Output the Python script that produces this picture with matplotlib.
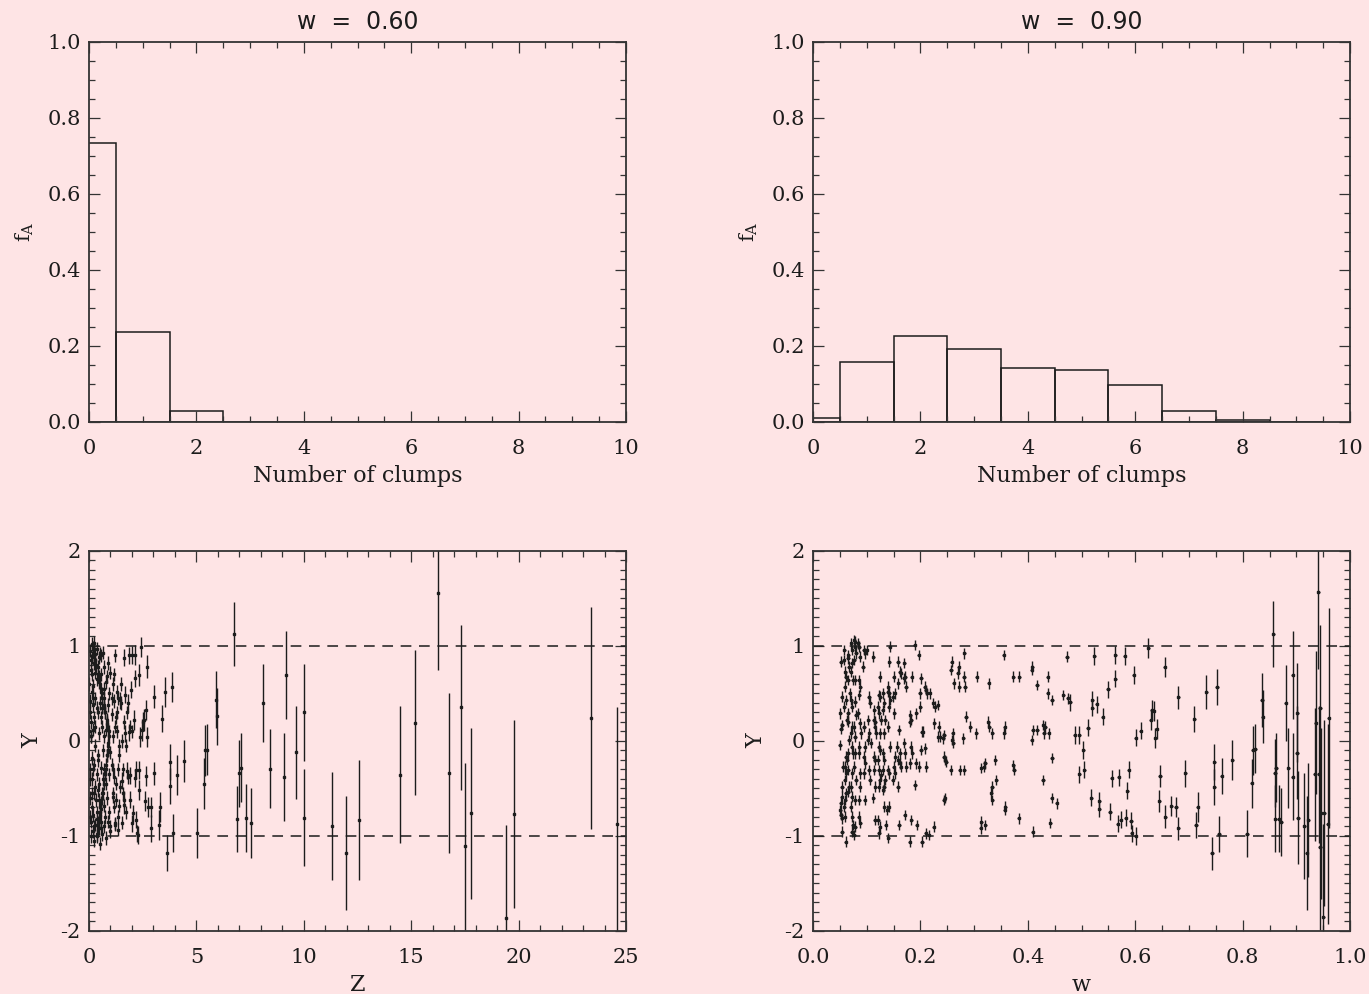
"""Clump statistics: f_A histograms (top) and Y against Z and w (bottom)."""
import matplotlib.pyplot as plt
from matplotlib.ticker import MultipleLocator, FormatStrFormatter

BG = "#fee4e5"
INK = "#1c1c1c"

plt.rcParams["font.family"] = "DejaVu Serif"
plt.rcParams["mathtext.fontset"] = "dejavuserif"

# ---- histograms -------------------------------------------------------------
CLUMPS = list(range(10))
FA_W060 = [0.733, 0.237, 0.030, 0.0, 0.0, 0.0, 0.0, 0.0, 0.0, 0.0]
FA_W090 = [0.011, 0.159, 0.227, 0.193, 0.143, 0.136, 0.096, 0.028, 0.006, 0.001]

# ---- Y vs Z: dense core (small, similar errors) ----------------------------
Z_CORE = [0.05, 0.12, 0.18, 0.25, 0.30, 0.38, 0.45, 0.10, 0.22, 0.55, 0.65, 0.90, 1.20,
          0.08, 0.15, 0.28, 0.35, 0.42, 0.50, 0.58, 0.70, 0.78, 0.85, 1.00, 1.10, 1.30, 0.20, 0.12, 0.95,
          0.05, 0.18, 0.30, 0.40, 0.50, 0.55, 0.62, 0.70, 0.75, 0.82, 0.90, 1.05, 1.15, 1.35, 1.50, 1.75, 0.25, 0.10, 1.25,
          0.02, 0.08, 0.20, 0.30, 0.45, 0.60, 0.65, 0.72, 0.80, 0.88, 0.95, 1.00, 1.10, 1.20, 1.30, 1.40, 1.55, 1.70, 1.90, 2.00, 0.40, 0.15, 0.85,
          0.05, 0.12, 0.22, 0.35, 0.45, 0.55, 0.65, 0.72, 0.80, 0.92, 1.05, 1.15, 1.35, 1.60, 1.80, 0.28, 1.45,
          0.05, 0.15, 0.25, 0.35, 0.45, 0.55, 0.60, 0.70, 0.85, 0.95, 1.10, 1.25, 1.40, 0.40, 0.20,
          0.10, 0.18, 0.25, 0.30, 0.38, 0.45, 0.50, 0.55, 0.62, 0.70, 0.80, 0.90, 1.00, 1.20, 0.35, 0.08,
          # upper arm of the dense ridge
          0.25, 0.32, 0.40, 0.48, 0.55, 0.62, 0.68, 0.75, 0.82, 0.88, 0.92, 0.30, 0.45, 0.60, 0.72, 0.85,
          # lower arm of the dense ridge
          0.90, 0.85, 0.80, 0.75, 0.70, 0.65, 0.58, 0.50, 0.45, 0.40, 0.35, 0.78, 0.62, 0.52, 0.42, 0.88,
          # scattered
          0.02, 0.03, 0.04, 0.06, 0.10, 0.12, 0.15, 0.18, 0.20, 0.24, 0.28, 0.32, 0.36, 0.42,
          0.50, 0.58, 0.68, 0.75, 1.05, 1.12, 1.18, 1.25, 1.32, 1.42, 1.48, 1.58, 1.65, 1.72]
Y_CORE = [0.95, 1.02, 0.98, 1.03, 0.92, 0.97, 0.88, 0.85, 0.82, 0.90, 0.93, 0.82, 0.90,
          0.75, 0.70, 0.72, 0.65, 0.78, 0.60, 0.70, 0.55, 0.62, 0.68, 0.72, 0.60, 0.52, 0.58, 0.52, 0.50,
          0.42, 0.38, 0.45, 0.30, 0.40, 0.25, 0.35, 0.45, 0.30, 0.22, 0.38, 0.28, 0.42, 0.45, 0.40, 0.30, 0.25, 0.20, 0.25,
          0.10, 0.05, 0.12, -0.05, 0.08, 0.15, -0.10, 0.05, 0.12, -0.02, 0.10, -0.12, 0.05, 0.15, 0.10, -0.05, 0.00, -0.05, 0.15, 0.10, -0.15, -0.18, -0.15,
          -0.30, -0.40, -0.25, -0.35, -0.45, -0.28, -0.40, -0.30, -0.45, -0.35, -0.25, -0.38, -0.30, -0.30, -0.38, -0.48, -0.48,
          -0.60, -0.70, -0.55, -0.75, -0.62, -0.72, -0.55, -0.68, -0.60, -0.75, -0.55, -0.62, -0.68, -0.52, -0.78,
          -0.85, -0.95, -1.05, -0.88, -1.00, -0.92, -1.08, -0.85, -0.98, -0.90, -1.02, -0.85, -0.95, -0.88, -0.82, -1.00,
          0.90, 0.80, 0.70, 0.62, 0.52, 0.45, 0.38, 0.30, 0.20, 0.12, 0.05, 0.85, 0.68, 0.50, 0.35, 0.18,
          -0.05, -0.15, -0.25, -0.35, -0.45, -0.55, -0.65, -0.75, -0.82, -0.90, -0.98, -0.30, -0.60, -0.70, -0.86, -0.10,
          0.60, -0.40, 0.30, -0.80, 0.05, -0.55, 0.88, -0.30, 0.45, -0.90, 0.15, -0.62, 0.35, -0.20,
          0.92, -0.92, 0.78, -0.80, 0.45, -0.30, 0.70, -0.45, 0.30, -0.15, 0.60, -0.55, 0.20, -0.75]
CORE_ERR = 0.07

# ---- Y vs Z: individually read points ---------------------------------------
Z_PTS = [2.42, 2.14, 2.02, 1.86, 1.64, 2.68, 2.34, 2.14, 1.94, 1.80, 1.68, 1.44,
         2.67, 2.58, 2.53, 2.47, 2.39, 2.68, 2.09, 1.88, 1.68,
         2.19, 2.34, 2.64, 2.61, 2.73, 2.89, 2.31, 2.14, 1.91, 1.77, 1.55,
         1.92, 2.02, 2.06, 2.19, 2.22, 2.30, 1.64, 1.64, 1.52, 1.33, 1.37, 1.19, 1.16, 1.12, 0.98,
         3.04, 3.03, 3.29, 3.27, 2.89, 3.38, 3.52, 3.86, 3.65, 3.91, 3.77, 3.79, 4.09, 4.40,
         5.03, 5.35, 5.42, 5.49, 5.91, 5.97, 6.77, 6.90, 6.97, 7.08, 7.31, 7.54,
         8.10, 8.41, 9.08, 9.16, 9.65, 10.03, 10.03, 11.33, 11.98, 12.55,
         14.50, 15.19, 16.23, 16.75, 17.33, 17.50, 17.78, 19.41, 19.80, 23.36, 24.58]
Y_PTS = [0.99, 0.905, 0.905, 0.90, 0.875, 0.78, 0.695, 0.66, 0.54, 0.40, 0.485, 0.43,
         0.325, 0.22, 0.205, 0.115, 0.04, 0.04, 0.22, 0.09, 0.08,
         -0.305, -0.305, -0.365, -0.63, -0.69, -0.69, -0.515, -0.39, -0.36, -0.315, -0.42,
         -0.62, -0.865, -0.76, -0.83, -0.97, -0.99, -0.62, -0.675, -0.86, -0.935, -0.80, -0.865, -0.69, -0.585, -0.90,
         0.466, -0.34, -0.69, -0.88, -0.92, 0.235, 0.516, 0.572, -1.18, -0.97, -0.47, -0.22, -0.36, -0.21,
         -0.97, -0.45, -0.10, -0.09, 0.435, 0.26, 1.126, -0.82, -0.34, -0.28, -0.81, -0.86,
         0.40, -0.29, -0.38, 0.695, -0.12, 0.30, -0.81, -0.895, -1.18, -0.83,
         -0.355, 0.193, 1.56, -0.34, 0.355, -1.11, -0.76, -1.86, -0.77, 0.24, -0.87]
E_PTS = [0.105, 0.105, 0.09, 0.09, 0.09, 0.12, 0.12, 0.09, 0.09, 0.09, 0.09, 0.09,
         0.105, 0.12, 0.105, 0.12, 0.105, 0.105, 0.105, 0.09, 0.09,
         0.09, 0.09, 0.105, 0.105, 0.105, 0.105, 0.105, 0.09, 0.09, 0.09, 0.09,
         0.09, 0.09, 0.09, 0.09, 0.09, 0.09, 0.09, 0.09, 0.07, 0.07, 0.07, 0.07, 0.07, 0.07, 0.07,
         0.123, 0.123, 0.158, 0.158, 0.14, 0.14, 0.158, 0.158, 0.19, 0.20, 0.19, 0.19, 0.21, 0.22,
         0.26, 0.27, 0.27, 0.27, 0.30, 0.30, 0.34, 0.35, 0.35, 0.36, 0.36, 0.37,
         0.41, 0.42, 0.46, 0.46, 0.49, 0.51, 0.51, 0.57, 0.60, 0.63,
         0.72, 0.76, 0.81, 0.84, 0.87, 0.88, 0.90, 0.98, 0.99, 1.17, 1.23]

# ---- Y vs w: low-w points (uniform small errors) -----------------------------
W_LOW = [0.052, 0.053, 0.051, 0.054, 0.052, 0.050, 0.055, 0.054, 0.053, 0.052, 0.051, 0.052, 0.053, 0.054,
         0.058, 0.057, 0.060, 0.061, 0.059, 0.062, 0.058, 0.063, 0.061, 0.060, 0.062, 0.059, 0.061, 0.060, 0.058, 0.059, 0.061,
         0.066, 0.065, 0.067, 0.066, 0.068, 0.065, 0.066, 0.067, 0.065, 0.064, 0.066, 0.067, 0.065,
         0.071, 0.073, 0.072, 0.070, 0.074, 0.071, 0.072, 0.073, 0.071, 0.072, 0.074, 0.073, 0.071, 0.072, 0.070, 0.073, 0.074, 0.072,
         0.077, 0.079, 0.078, 0.080, 0.077, 0.079, 0.078, 0.080, 0.076, 0.078, 0.079, 0.077, 0.080, 0.078, 0.079, 0.077,
         0.084, 0.086, 0.087, 0.085, 0.088, 0.086, 0.084, 0.087, 0.089, 0.086, 0.085, 0.088, 0.087, 0.086, 0.085, 0.088,
         0.094, 0.097, 0.093, 0.095, 0.096, 0.094, 0.097, 0.095, 0.096,
         0.100, 0.104, 0.106, 0.103, 0.105, 0.102, 0.107, 0.104, 0.106,
         0.112, 0.114, 0.113, 0.116, 0.115, 0.117, 0.113, 0.115, 0.114, 0.116, 0.112, 0.115,
         0.124, 0.122, 0.125, 0.121, 0.123, 0.126, 0.124, 0.122, 0.125, 0.121, 0.123, 0.126, 0.124, 0.122, 0.121, 0.124, 0.123,
         0.131, 0.133, 0.130, 0.134, 0.132, 0.131, 0.133, 0.130, 0.134, 0.132, 0.131, 0.133, 0.135,
         0.143, 0.142, 0.140, 0.139, 0.142, 0.144, 0.141, 0.140, 0.143, 0.139, 0.142, 0.141, 0.138, 0.140,
         0.150, 0.152, 0.149, 0.151, 0.153, 0.150, 0.152, 0.148,
         0.158, 0.161, 0.163, 0.159, 0.160, 0.157, 0.162, 0.159, 0.161, 0.163, 0.158, 0.160,
         0.170, 0.172, 0.169, 0.173, 0.170, 0.171, 0.174, 0.171,
         0.184, 0.181, 0.183, 0.180, 0.182, 0.185, 0.181, 0.183, 0.180,
         0.189, 0.192, 0.191, 0.190, 0.193,
         0.197, 0.201, 0.199, 0.200, 0.202, 0.204, 0.201, 0.198, 0.203,
         0.208, 0.210, 0.212, 0.209, 0.211, 0.210,
         0.217, 0.215, 0.224, 0.227, 0.226, 0.225, 0.232, 0.234, 0.233, 0.236,
         0.244, 0.242, 0.243, 0.246, 0.248, 0.245, 0.244,
         0.258, 0.257, 0.262, 0.260, 0.259, 0.261, 0.256,
         0.271, 0.270, 0.272, 0.273, 0.282, 0.281, 0.283, 0.285, 0.280, 0.282,
         0.293, 0.305, 0.304, 0.313, 0.313, 0.312, 0.320, 0.318, 0.321, 0.327, 0.326, 0.328,
         0.334, 0.333, 0.332, 0.334, 0.339, 0.341, 0.355, 0.357, 0.356, 0.358, 0.357,
         0.373, 0.373, 0.374, 0.384, 0.383, 0.408, 0.407, 0.409, 0.407, 0.409, 0.417, 0.417,
         0.429, 0.432, 0.430, 0.428, 0.437, 0.437, 0.439, 0.445, 0.445, 0.444, 0.442,
         0.454, 0.466, 0.473, 0.474]
Y_LOW = [0.835, 0.467, 0.291, 0.169, 0.130, -0.042, -0.270, -0.480, -0.586, -0.656, -0.726, -0.779, -0.814, -0.954,
         0.958, 0.853, 0.730, 0.677, 0.572, 0.432, 0.362, 0.221, -0.165, -0.270, -0.340, -0.410, -0.551, -0.621, -0.691, -0.796, -1.060,
         0.905, 0.870, 0.783, 0.642, 0.502, 0.291, 0.204, 0.011, -0.130, -0.200, -0.305, -0.480, -0.533,
         1.028, 0.958, 0.818, 0.730, 0.642, 0.432, 0.362, 0.151, 0.081, -0.060, -0.130, -0.340, -0.480, -0.586, -0.691, -0.796, -0.884, -0.954,
         1.063, 1.046, 0.993, 0.923, 0.853, 0.642, 0.414, 0.274, 0.151, 0.046, -0.130, -0.270, -0.410, -0.621, -0.902, -0.989,
         1.028, 0.993, 0.888, 0.642, 0.572, 0.484, 0.291, 0.186, 0.081, -0.060, -0.130, -0.340, -0.480, -0.621, -0.796, -0.866,
         0.958, 0.923, 0.783, 0.151, -0.060, -0.165, -0.235, -0.340, -0.621,
         0.958, 0.467, 0.397, 0.221, 0.081, 0.011, -0.024, -0.305, -0.410,
         0.888, 0.326, 0.221, 0.204, 0.151, 0.081, -0.165, -0.200, -0.305, -0.480, -0.603, -0.831,
         0.677, 0.484, 0.467, 0.362, 0.291, 0.221, 0.081, -0.060, -0.095, -0.200, -0.305, -0.358, -0.410, -0.480, -0.831, -0.902, -0.972,
         0.502, 0.397, 0.326, 0.221, 0.081, -0.130, -0.200, -0.305, -0.410, -0.480, -0.516, -0.691, -0.884,
         0.993, 0.835, 0.572, 0.519, 0.502, 0.432, 0.362, 0.151, -0.060, -0.305, -0.340, -0.691, -0.726, -1.024,
         0.677, 0.502, 0.467, 0.291, -0.165, -0.270, -0.340, -0.410,
         0.835, 0.730, 0.712, 0.607, 0.116, -0.060, -0.130, -0.200, -0.235, -0.270, -0.480, -0.884,
         0.818, 0.677, 0.660, 0.572, -0.024, -0.130, -0.270, -0.779,
         0.677, 0.274, 0.221, 0.204, -0.060, -0.130, -0.235, -0.831, -1.060,
         1.011, 0.291, -0.235, -0.463, -0.884,
         0.905, 0.660, 0.502, 0.362, 0.098, 0.098, -0.095, -0.270, -1.060,
         0.572, 0.537, 0.502, -0.077, -0.270, -0.972,
         0.502, -0.989, 0.397, 0.362, 0.186, -0.902, 0.380, 0.151, 0.046, 0.046,
         0.063, 0.028, -0.165, -0.200, -0.217, -0.603, -0.621,
         0.835, 0.748, 0.607, 0.081, 0.011, -0.024, -0.305,
         0.783, 0.712, 0.572, -0.305, 0.923, 0.677, 0.572, 0.256, 0.028, -0.305,
         0.151, 0.677, 0.081, -0.287, -0.849, -0.919, -0.235, -0.270, -0.884, 0.607, 0.204, 0.151,
         0.081, -0.480, -0.551, -0.621, -0.200, -0.410, 0.905, 0.151, 0.081, -0.691, -0.726,
         0.677, -0.252, -0.305, 0.677, -0.814, 0.783, 0.748, 0.116, 0.011, -0.954, 0.590, 0.116,
         0.169, 0.151, 0.081, -0.410, 0.677, 0.502, 0.081, 0.432, -0.182, -0.603, -0.866,
         -0.656, 0.484, 0.888, 0.449]
LOW_ERR = 0.055
W_ERR = 0.003

# ---- Y vs w: high-w points with individual errors -----------------------------
W_HIGH = [0.479, 0.487, 0.496, 0.496, 0.503, 0.505, 0.512, 0.518, 0.520, 0.520, 0.524, 0.528,
          0.533, 0.533, 0.539, 0.549, 0.553, 0.556, 0.563, 0.563, 0.567, 0.569, 0.573, 0.580,
          0.582, 0.585, 0.588, 0.592, 0.593, 0.597, 0.601, 0.601, 0.610,
          0.624, 0.629, 0.631, 0.634, 0.637, 0.640, 0.645, 0.646, 0.655, 0.656, 0.667, 0.676,
          0.680, 0.680, 0.693, 0.710, 0.713, 0.716, 0.732, 0.743, 0.747, 0.747, 0.752, 0.756, 0.761,
          0.781, 0.808, 0.817, 0.819, 0.823, 0.836, 0.837, 0.857, 0.860, 0.861, 0.862, 0.867, 0.872,
          0.880, 0.885, 0.893, 0.893, 0.901, 0.902, 0.903, 0.915, 0.919, 0.922,
          0.934, 0.936, 0.941, 0.942, 0.944, 0.944, 0.945, 0.950, 0.952, 0.958, 0.960]
Y_HIGH = [0.407, 0.063, 0.063, -0.351, -0.095, -0.302, 0.141, -0.596, 0.432, 0.351, 0.895, 0.386,
          -0.631, -0.712, 0.256, 0.544, -0.744, -0.393, 0.905, 0.653, -0.873, -0.382, -0.831, 0.895,
          -0.807, -0.523, -0.302, -0.838, -0.972, 0.695, -1.000, 0.035, 0.106,
          0.979, 0.221, 0.327, 0.320, 0.035, 0.127, -0.631, -0.368, 0.783, -0.796, -0.684, -0.691,
          0.460, -0.919, -0.340, 0.232, -0.884, -0.695, 0.516, -1.182, -0.217, -0.480, 0.569, -0.975, -0.368,
          -0.203, -0.975, -0.445, -0.098, -0.080, 0.432, 0.256, 1.127, -0.340, -0.817, -0.280, -0.817, -0.852,
          0.397, -0.287, 0.695, -0.375, -0.123, 0.298, -0.807, -0.894, -1.182, -0.831,
          -0.351, 0.193, 1.565, -0.351, -1.112, 0.351, -0.761, -1.856, -0.761, -0.873, 0.239]
E_HIGH = [0.09, 0.09, 0.09, 0.09, 0.09, 0.09, 0.09, 0.09, 0.09, 0.09, 0.09, 0.09,
          0.09, 0.09, 0.09, 0.09, 0.09, 0.09, 0.09, 0.09, 0.09, 0.09, 0.09, 0.09,
          0.09, 0.09, 0.09, 0.09, 0.09, 0.09, 0.09, 0.09, 0.09,
          0.105, 0.105, 0.105, 0.105, 0.105, 0.105, 0.12, 0.12, 0.105, 0.12, 0.105, 0.105,
          0.12, 0.12, 0.14, 0.14, 0.14, 0.16, 0.175, 0.175, 0.19, 0.19, 0.19, 0.19, 0.19,
          0.21, 0.245, 0.26, 0.26, 0.26, 0.28, 0.28, 0.35, 0.36, 0.35, 0.36, 0.35, 0.36,
          0.40, 0.42, 0.46, 0.46, 0.49, 0.52, 0.49, 0.56, 0.60, 0.60,
          0.70, 0.75, 0.81, 0.72, 0.88, 0.87, 0.90, 0.98, 0.98, 1.05, 1.16]


def style_axes(ax, xmaj, xmin, ymaj, ymin, yfmt):
    ax.set_facecolor(BG)
    ax.xaxis.set_major_locator(MultipleLocator(xmaj))
    ax.xaxis.set_minor_locator(MultipleLocator(xmin))
    ax.yaxis.set_major_locator(MultipleLocator(ymaj))
    ax.yaxis.set_minor_locator(MultipleLocator(ymin))
    ax.yaxis.set_major_formatter(FormatStrFormatter(yfmt))
    ax.tick_params(which="both", direction="in", top=True, right=True,
                   color="#333333", labelcolor=INK, labelsize=15, width=0.9)
    ax.tick_params(which="major", length=8)
    ax.tick_params(which="minor", length=4)
    ax.tick_params(axis="x", pad=12)
    ax.tick_params(axis="y", pad=6)
    for sp in ax.spines.values():
        sp.set_linewidth(1.3)
        sp.set_color("#333333")


fig = plt.figure(figsize=(13.69, 9.94), dpi=100, facecolor=BG)
w_ax, h_ax = 0.3923, 0.3823
ax_h1 = fig.add_axes([0.0650, 0.5755, w_ax, h_ax])
ax_h2 = fig.add_axes([0.5939, 0.5755, w_ax, h_ax])
ax_z = fig.add_axes([0.0650, 0.0634, w_ax, h_ax])
ax_w = fig.add_axes([0.5939, 0.0634, w_ax, h_ax])

# histograms
for ax, vals, title in [(ax_h1, FA_W060, "w  =  0.60"), (ax_h2, FA_W090, "w  =  0.90")]:
    style_axes(ax, 2, 0.5, 0.2, 0.05, "%.1f")
    ax.bar(CLUMPS, vals, width=1.0, fill=False, edgecolor=INK, linewidth=1.1)
    ax.set_xlim(0, 10)
    ax.set_ylim(0, 1.0)
    ax.xaxis.set_major_formatter(FormatStrFormatter("%d"))
    ax.set_title(title, fontsize=17, family="DejaVu Sans", pad=9, color=INK)
    ax.set_xlabel("Number of clumps", fontsize=16, labelpad=5, color=INK)
    ax.set_ylabel(r"f$_{\rm A}$", fontsize=15, labelpad=8, color=INK)

# Y versus Z
style_axes(ax_z, 5, 1, 1, 0.1, "%d")
ax_z.errorbar(Z_CORE, Y_CORE, yerr=CORE_ERR, fmt="s", ms=1.6, color=INK,
              elinewidth=1.0, capsize=0)
ax_z.errorbar(Z_PTS, Y_PTS, yerr=E_PTS, fmt="s", ms=1.6, color=INK,
              elinewidth=1.0, capsize=0)
ax_z.set_xlim(0, 25)
ax_z.set_ylim(-2, 2)
ax_z.set_xlabel("Z", fontsize=16, labelpad=5, color=INK)
ax_z.set_ylabel("Y", fontsize=16, labelpad=12, color=INK)

# Y versus w
style_axes(ax_w, 0.2, 0.05, 1, 0.1, "%d")
ax_w.xaxis.set_major_formatter(FormatStrFormatter("%.1f"))
ax_w.errorbar(W_LOW, Y_LOW, xerr=W_ERR, yerr=LOW_ERR, fmt="s", ms=1.6,
              color=INK, elinewidth=1.0, capsize=0)
ax_w.errorbar(W_HIGH, Y_HIGH, xerr=W_ERR, yerr=E_HIGH, fmt="s", ms=1.6,
              color=INK, elinewidth=1.0, capsize=0)
ax_w.set_xlim(0, 1)
ax_w.set_ylim(-2, 2)
ax_w.set_xlabel("w", fontsize=16, labelpad=5, color=INK)
ax_w.set_ylabel("Y", fontsize=16, labelpad=12, color=INK)

for ax in (ax_z, ax_w):
    for yv in (1, -1):
        ax.axhline(yv, color=INK, linewidth=1.1, linestyle=(0, (7, 5)))

fig.savefig("out.png", dpi=100, facecolor=BG)
